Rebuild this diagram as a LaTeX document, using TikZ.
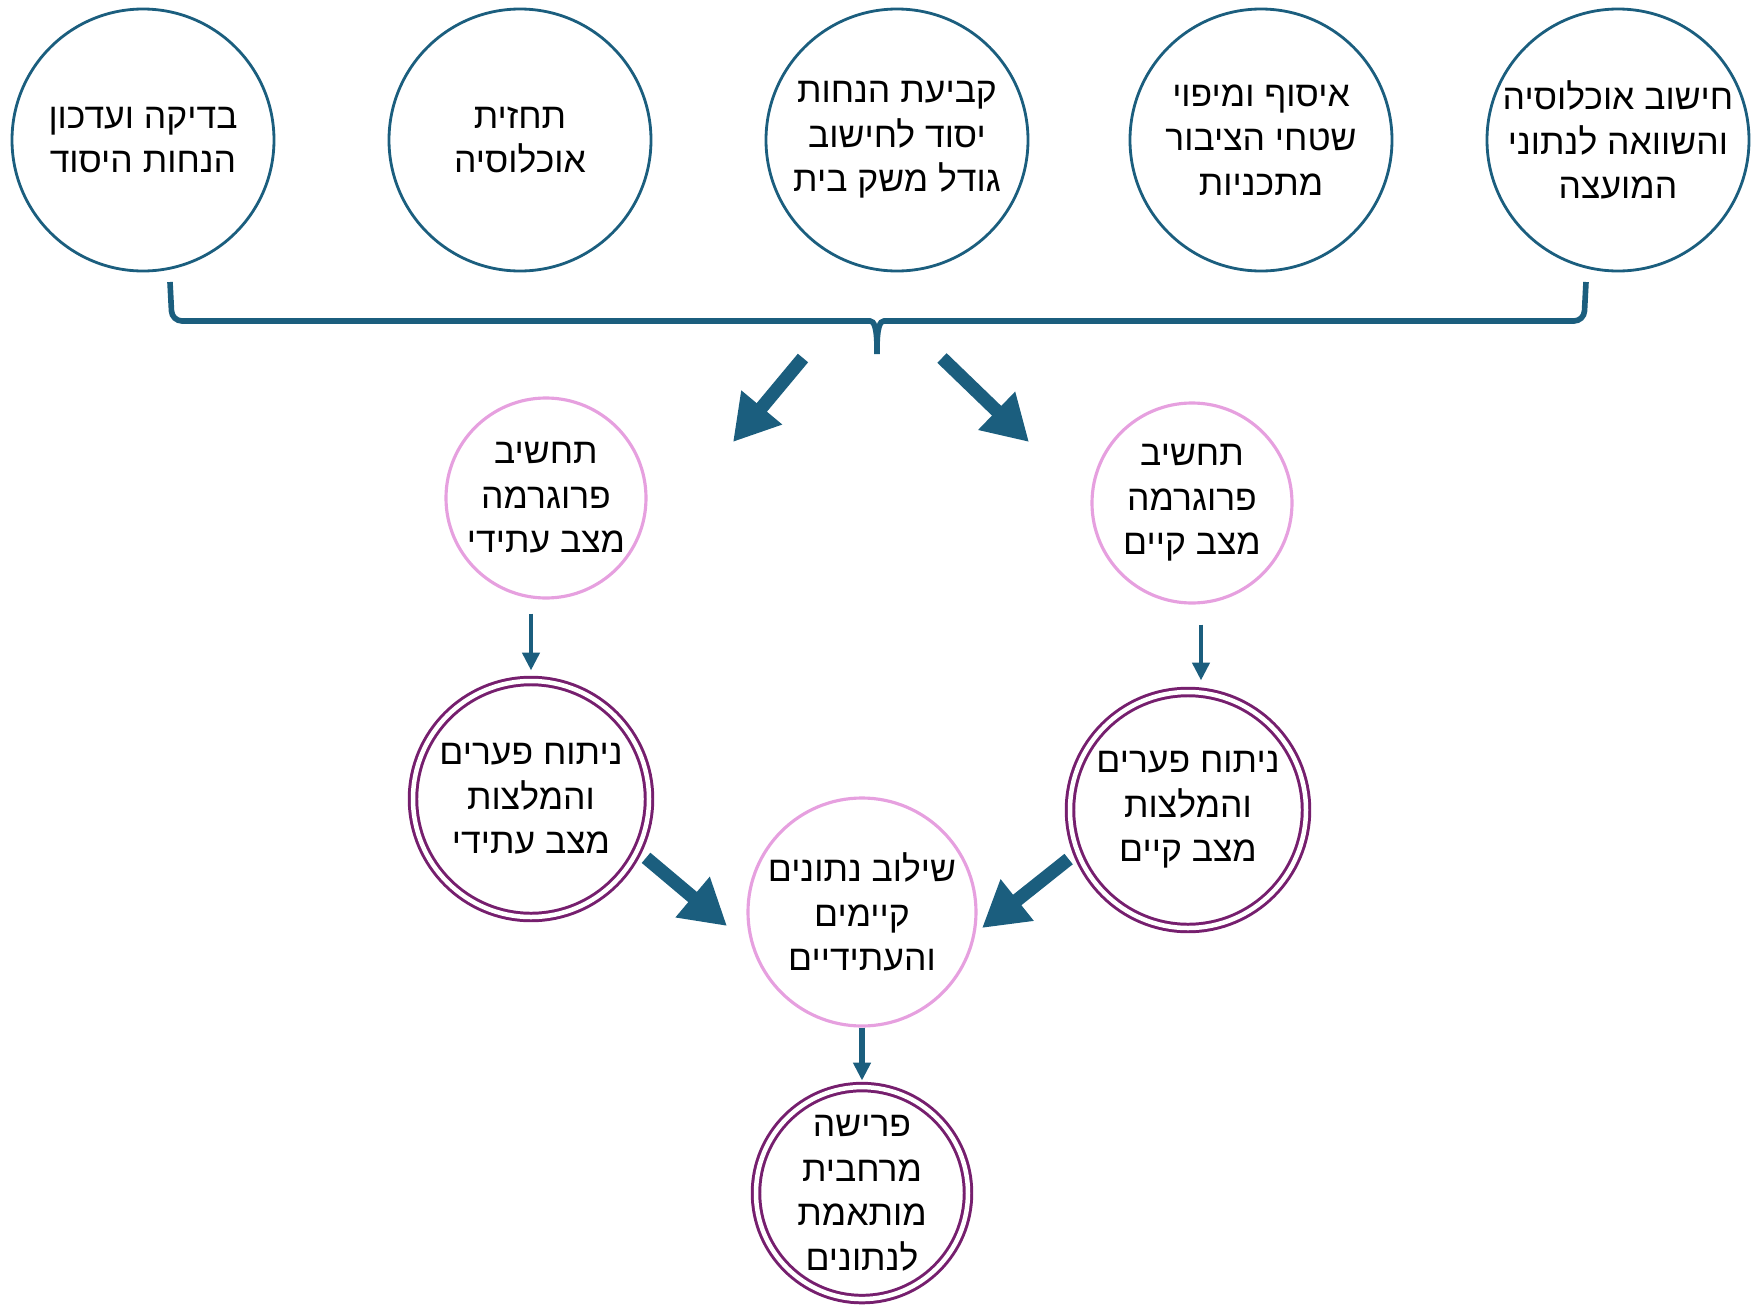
\documentclass[tikz,border=0pt]{standalone}
\usepackage{fontspec}
\newfontfamily\hebfont[Script=Hebrew]{Liberation Sans}
\TeXXeTstate=1
\usepackage{xcolor}
\usepackage{tikz}
\usetikzlibrary{arrows.meta, positioning, calc}
\definecolor{bluedark}{HTML}{1B5E7E}
\definecolor{pinkline}{HTML}{E6A0DF}
\definecolor{purpleline}{HTML}{761F6E}
\newcommand{\rtltext}[1]{\beginR #1\endR}

\begin{document}
\begin{tikzpicture}[>=Triangle,thick,
			top node/.style={circle,draw=bluedark,line width=0.8pt,minimum size=2.62cm,inner sep=0pt,align=center,
				font=\hebfont\fontsize{10.1}{12.7}\selectfont},
			calc node/.style={top node,draw=pinkline,line width=0.9pt},
			gap node/.style={top node,draw=purpleline,line width=0.85pt,double,double distance=0.45mm},
			big arrow/.style={-{Triangle[width=5mm,length=4.5mm]},line width=3.8pt,draw=bluedark},
			small arrow/.style={-{Triangle[width=1.7mm,length=1.8mm]},line width=1.3pt,draw=bluedark}]
			
			\useasboundingbox (0,0) rectangle (17.54,-13.10);
			
			% top row
			\node[top node] (check) at (1.43,-1.40) {\rtltext{בדיקה ועדכון}\\\rtltext{הנחות היסוד}};
			\node[top node] (forecast) at (5.20,-1.40) {\rtltext{תחזית}\\\rtltext{אוכלוסיה}};
			\node[top node] (hhsize) at (8.97,-1.40) {\rtltext{קביעת הנחות}\\\rtltext{יסוד לחישוב}\\\rtltext{גודל משק בית}};
			\node[top node] (survey) at (12.61,-1.40) {\rtltext{איסוף ומיפוי}\\\rtltext{שטחי הציבור}\\\rtltext{מתכניות}};
			\node[top node] (popcalc) at (16.18,-1.40) {\rtltext{חישוב אוכלוסיה}\\\rtltext{והשוואה לנתוני}\\\rtltext{המועצה}};
			
			% two branches
			\node[calc node,minimum size=2cm] (progfut) at (5.46,-4.98) {\rtltext{תחשיב}\\\rtltext{פרוגרמה}\\\rtltext{מצב עתידי}};
			\node[calc node,minimum size=2cm] (progcur) at (11.92,-5.03) {\rtltext{תחשיב}\\\rtltext{פרוגרמה}\\\rtltext{מצב קיים}};
			\node[gap node,minimum size=2.36cm] (gapfut) at (5.31,-7.99) {\rtltext{ניתוח פערים}\\\rtltext{והמלצות}\\\rtltext{מצב עתידי}};
			\node[gap node,minimum size=2.36cm] (gapcur) at (11.88,-8.10) {\rtltext{ניתוח פערים}\\\rtltext{והמלצות}\\\rtltext{מצב קיים}};
			\node[calc node,minimum size=2.28cm] (merge) at (8.62,-9.12) {\rtltext{שילוב נתונים}\\\rtltext{קיימים}\\\rtltext{והעתידיים}};
			\node[gap node,minimum size=2.12cm] (layout) [below=0.58cm of merge] {\rtltext{פרישה}\\\rtltext{מרחבית}\\\rtltext{מותאמת}\\\rtltext{לנתונים}};
			
			% brace
			\draw[bluedark,line width=1.6pt,rounded corners=1mm] (1.70,-2.82) -- (1.72,-3.21) -- (8.60,-3.21)
			.. controls (8.74,-3.21) and (8.77,-3.27) .. (8.77,-3.60)
			.. controls (8.77,-3.27) and (8.80,-3.21) .. (8.94,-3.21) -- (15.84,-3.21) -- (15.86,-2.82);
			
			\coordinate (tl) at (8.03,-3.58);
			\coordinate (hl) at (7.33,-4.42);
			\coordinate (tr) at (9.42,-3.58);
			\coordinate (hr) at (10.29,-4.42);
			\coordinate (ml) at (7.27,-9.26);
			\coordinate (mr) at (9.82,-9.28);
			
			\draw[big arrow] (tl) -- (hl);
			\draw[big arrow] (tr) -- (hr);
			\draw[big arrow,shorten <=1mm] (gapfut.-26) -- (ml);
			\draw[big arrow,shorten <=1mm] (gapcur.201) -- (mr);
			
			\draw[small arrow,shorten <=1.4mm,shorten >=0.9mm] (progfut.south -| gapfut.north) -- (gapfut.north);
			\draw[small arrow,shorten <=2mm,shorten >=1mm] ([xshift=0.9mm]progcur.south) -- ([xshift=0.9mm]progcur.south |- gapcur.north);
			\draw[small arrow,line width=1.6pt,shorten >=0.5mm] (merge) -- (layout);
		\end{tikzpicture}
\end{document}
